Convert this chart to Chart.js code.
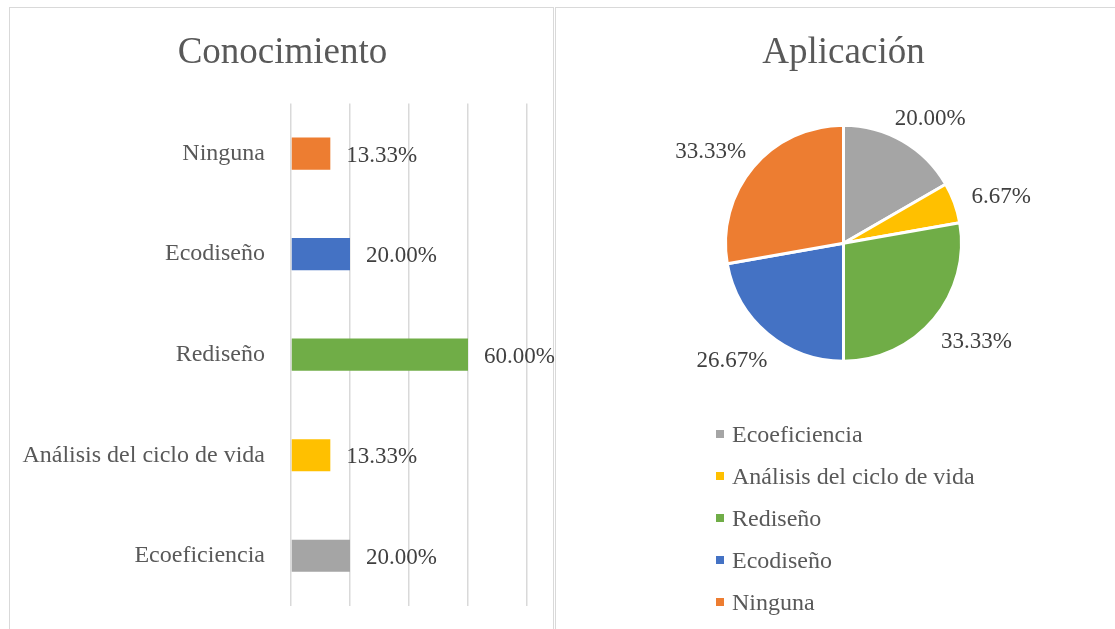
<!DOCTYPE html>
<html>
<head>
<meta charset="utf-8">
<script src="https://cdn.jsdelivr.net/npm/chart.js@4.4.1/dist/chart.umd.min.js"></script>
<style>
  body { margin: 0; background: #fff; width: 1115px; height: 629px; overflow: hidden; position: relative; }
  .marco { position: absolute; top: 7px; border: 1.5px solid #d9d9d9; border-bottom: none; height: 640px; }
  #marco1 { left: 9px; width: 543px; }
  #marco2 { left: 555px; width: 600px; }
  #c1 { position: absolute; left: 10px; top: 8px; }
  #c2 { position: absolute; left: 557px; top: 8px; }
  #leyenda { position: absolute; left: 716px; top: 413px; font-family: 'Liberation Serif', 'Times New Roman', serif; font-size: 24px; color: #595959; }
  #leyenda div { height: 42px; display: flex; align-items: center; }
  #leyenda span.cuadro { width: 8px; height: 8px; margin-right: 8px; display: inline-block; }
</style>
</head>
<body>
<div class="marco" id="marco1"></div>
<div class="marco" id="marco2"></div>
<canvas id="c1" width="545" height="621"></canvas>
<canvas id="c2" width="558" height="621"></canvas>
<div id="leyenda"></div>
<script>
// datos
var categorias = ['Ecoeficiencia', 'Análisis del ciclo de vida', 'Rediseño', 'Ecodiseño', 'Ninguna'];
var conocimiento = [20.00, 13.33, 60.00, 20.00, 13.33];
var aplicacion = [20.00, 6.67, 33.33, 26.67, 33.33];
var ejeX = [0, 20, 40, 60, 80];
var colores = ['#A5A5A5', '#FFC000', '#70AD47', '#4472C4', '#ED7D31'];

var fuente = "'Liberation Serif', 'Times New Roman', serif";

// etiquetas de datos
var etiquetas = {
    id: 'etiquetas',
    afterDatasetsDraw(chart) {
        var ctx = chart.ctx;
        var meta = chart.getDatasetMeta(0);
        var valores = chart.data.datasets[0].data;
        ctx.save();
        ctx.font = '23px ' + fuente;
        ctx.fillStyle = '#404040';
        ctx.textBaseline = 'middle';
        meta.data.forEach((el, i) => {
            var txt = valores[i].toFixed(2) + '%';
            if (chart.config.type === 'bar') {
                ctx.textAlign = 'left';
                ctx.fillText(txt, el.x + 16, el.y + 2);
            } else {
                var m = (el.startAngle + el.endAngle) / 2;
                var w = ctx.measureText(txt).width;
                var h = 20;
                var r = el.outerRadius + 20;
                var cx = el.x + Math.cos(m) * r + Math.cos(m) * w / 2;
                var cy = el.y + Math.sin(m) * r + Math.sin(m) * h / 2;
                ctx.textAlign = 'center';
                ctx.fillText(txt, cx, cy + 4);
            }
        });
        ctx.restore();
    }
};

new Chart(document.getElementById('c1'), {
    type: 'bar',
    data: {
        labels: categorias,
        datasets: [{
            data: conocimiento,
            backgroundColor: colores,
            barPercentage: 0.32,
            categoryPercentage: 1
        }]
    },
    options: {
        indexAxis: 'y',
        responsive: false,
        animation: false,
        layout: { padding: { top: 0, bottom: 23, left: 0, right: 0 } },
        plugins: {
            legend: { display: false },
            tooltip: { enabled: false },
            title: {
                display: true,
                text: 'Conocimiento',
                color: '#595959',
                font: { family: fuente, size: 37, weight: 'normal' },
                padding: { top: 23, bottom: 28 }
            }
        },
        scales: {
            x: {
                min: ejeX[0],
                max: ejeX[ejeX.length - 1],
                ticks: { display: false, stepSize: ejeX[1] - ejeX[0] },
                grid: { color: '#d9d9d9', lineWidth: 1.5, drawTicks: false },
                border: { display: false }
            },
            y: {
                reverse: true,
                grid: { display: false, drawTicks: false },
                border: { display: false },
                ticks: { color: '#595959', padding: 26, font: { family: fuente, size: 24 } },
                afterFit(s) { s.width = 281; s.paddingTop = 0; s.paddingBottom = 0; }
            },
            relleno: {
                axis: 'y',
                position: 'right',
                type: 'linear',
                display: true,
                ticks: { display: false },
                grid: { display: false, drawTicks: false },
                border: { display: false },
                afterFit(s) { s.width = 28; s.paddingTop = 0; s.paddingBottom = 0; }
            }
        }
    },
    plugins: [etiquetas]
});

new Chart(document.getElementById('c2'), {
    type: 'pie',
    data: {
        labels: categorias,
        datasets: [{
            data: aplicacion,
            backgroundColor: colores,
            borderColor: '#ffffff',
            borderWidth: 3
        }]
    },
    options: {
        responsive: false,
        animation: false,
        radius: 118,
        layout: { padding: { top: 0, bottom: 238, left: 15, right: 0 } },
        plugins: {
            legend: { display: false },
            tooltip: { enabled: false },
            title: {
                display: true,
                text: 'Aplicación',
                color: '#595959',
                font: { family: fuente, size: 37, weight: 'normal' },
                padding: { top: 23, bottom: 20 }
            }
        }
    },
    plugins: [etiquetas]
});

// leyenda
var leyenda = document.getElementById('leyenda');
categorias.forEach((c, i) => {
    leyenda.innerHTML += '<div><span class="cuadro" style="background:' + colores[i] + '"></span>' + c + '</div>';
});
</script>
</body>
</html>
